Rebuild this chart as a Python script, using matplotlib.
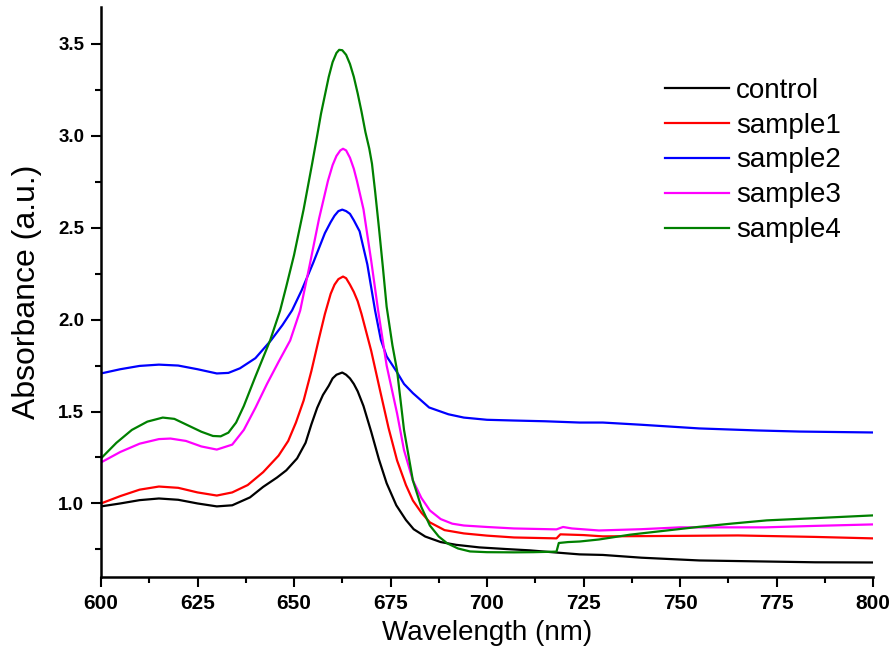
import matplotlib
matplotlib.use("Agg")
import matplotlib.pyplot as plt
from matplotlib import font_manager
from matplotlib.ticker import MultipleLocator

# absorbance spectra
control_wl = [600, 605, 610, 615, 620, 625, 630, 634, 638.6, 642, 645.6, 648, 650.8, 653, 654.5, 656, 657.5, 659,
              660, 661, 662.5, 663.5, 664.5, 665.5, 666.5, 668, 670, 672, 674, 676.5, 679, 681, 684, 688, 692,
              698, 705, 711, 718, 724, 730, 740, 755, 770, 785, 800]
control = [0.984, 1.0, 1.018, 1.027, 1.02, 1.0, 0.984, 0.99, 1.033, 1.09, 1.141, 1.18, 1.245, 1.33, 1.43, 1.52,
           1.59, 1.64, 1.68, 1.70, 1.712, 1.70, 1.68, 1.65, 1.61, 1.53, 1.39, 1.24, 1.11, 0.99, 0.91, 0.86, 0.82,
           0.79, 0.775, 0.761, 0.752, 0.745, 0.733, 0.723, 0.72, 0.705, 0.69, 0.685, 0.68, 0.679]

sample1_wl = [600, 605, 610, 615, 620, 625, 630, 634, 638, 642, 646, 648.5, 650.5, 652.5, 654.5, 656.5, 658,
              659.5, 660.5, 661.5, 662.7, 663.5, 664.5, 665.5, 666.5, 667.5, 670, 672.3, 674.5, 676.7, 679,
              680.8, 683, 685.2, 689, 694, 700, 707, 718, 719, 725, 730, 745, 765, 785, 800]
sample1 = [1.0, 1.04, 1.075, 1.092, 1.085, 1.06, 1.043, 1.06, 1.10, 1.17, 1.26, 1.34, 1.44, 1.56, 1.72, 1.90,
           2.03, 2.14, 2.19, 2.22, 2.234, 2.225, 2.19, 2.15, 2.1, 2.03, 1.83, 1.614, 1.41, 1.234, 1.10, 1.016,
           0.95, 0.897, 0.855, 0.837, 0.825, 0.815, 0.81, 0.832, 0.828, 0.821, 0.823, 0.826, 0.818, 0.81]

sample2_wl = [600, 605, 610, 615, 620, 625, 630, 633, 636, 640, 644, 647, 649.5, 652, 655, 658, 659.5, 660.5,
              661.5, 662.5, 663.5, 664.5, 665.5, 667, 669, 671, 672.5, 674, 676.5, 678.5, 680.8, 685, 690, 694,
              700, 707, 715, 724, 730, 740, 755, 770, 781, 800]
sample2 = [1.707, 1.73, 1.748, 1.755, 1.75, 1.73, 1.707, 1.71, 1.735, 1.79, 1.886, 1.97, 2.05, 2.16, 2.31, 2.47,
           2.53, 2.565, 2.59, 2.598, 2.59, 2.575, 2.54, 2.48, 2.3, 2.05, 1.89, 1.80, 1.72, 1.65, 1.60, 1.522,
           1.485, 1.467, 1.455, 1.451, 1.447, 1.44, 1.44, 1.428, 1.408, 1.397, 1.391, 1.386]

sample3_wl = [600, 605, 610, 615, 618, 622, 626, 630, 634, 637, 640, 643, 646, 649, 651.6, 654, 656.5, 658.8,
              660, 661, 662, 662.7, 663.5, 664.5, 665.5, 666.3, 668, 670, 671.8, 674, 676.7, 678.5, 680.8, 683,
              685.2, 688, 691, 694, 700, 707, 718, 719.7, 722, 729, 740, 750, 760, 772, 785, 800]
sample3 = [1.223, 1.28, 1.325, 1.35, 1.353, 1.34, 1.31, 1.293, 1.32, 1.40, 1.52, 1.65, 1.77, 1.886, 2.049, 2.29,
           2.55, 2.755, 2.84, 2.89, 2.92, 2.929, 2.92, 2.88, 2.82, 2.755, 2.6, 2.32, 2.049, 1.75, 1.49, 1.29,
           1.125, 1.03, 0.962, 0.915, 0.89, 0.88, 0.872, 0.864, 0.859, 0.872, 0.864, 0.853, 0.86, 0.87, 0.87,
           0.87, 0.878, 0.886]

sample4_wl = [600, 604, 608, 612, 616, 619, 622, 626, 629, 631, 633, 635, 637, 640, 643.8, 646.4, 648, 650,
              652.5, 654.7, 656, 657, 658, 659, 660, 661, 661.7, 662.5, 663.5, 664.5, 665.5, 666.5, 667.5, 668.5,
              669.5, 670.2, 671, 672, 673, 674, 675.5, 676.7, 678.5, 680.8, 683, 685.2, 687.5, 689.7, 692.5,
              695.6, 700, 707, 712, 718, 718.6, 721, 724, 729, 737, 746.6, 755, 763.7, 772.5, 785, 800]
sample4 = [1.245, 1.33, 1.40, 1.445, 1.467, 1.46, 1.43, 1.39, 1.367, 1.365, 1.385, 1.44, 1.53, 1.69, 1.886,
           2.049, 2.18, 2.35, 2.6, 2.848, 3.0, 3.12, 3.22, 3.32, 3.40, 3.45, 3.467, 3.465, 3.44, 3.39, 3.32,
           3.23, 3.13, 3.02, 2.93, 2.848, 2.70, 2.5, 2.29, 2.07, 1.86, 1.723, 1.40, 1.125, 0.98, 0.88, 0.82,
           0.783, 0.755, 0.739, 0.735, 0.734, 0.735, 0.738, 0.785, 0.79, 0.793, 0.804, 0.83, 0.853, 0.873,
           0.891, 0.908, 0.92, 0.935]

names = ["control", "sample1", "sample2", "sample3", "sample4"]
colors = ["black", "#ff0000", "#0000ff", "#ff00ff", "#008000"]


def pick(*fams):
    have = {f.name for f in font_manager.fontManager.ttflist}
    for f in fams:
        if f in have:
            return f
    return "DejaVu Sans"


sans = pick("Liberation Sans", "Arial")
narrow = pick("Liberation Sans Narrow", "Liberation Sans")

fig = plt.figure(figsize=(8.96, 6.61), dpi=100)
ax = fig.add_axes([101 / 896, 84 / 661, 772 / 896, 570 / 661])

series = [(control_wl, control), (sample1_wl, sample1), (sample2_wl, sample2),
          (sample3_wl, sample3), (sample4_wl, sample4)]
for (wl, ab), name, c in zip(series, names, colors):
    ax.plot(wl, ab, color=c, lw=1.6, label=name)

ax.set_xlim(600, 800)
ax.set_ylim(0.6, 3.7)
ax.xaxis.set_major_locator(MultipleLocator(25))
ax.xaxis.set_minor_locator(MultipleLocator(12.5))
ax.yaxis.set_major_locator(MultipleLocator(0.5))
ax.yaxis.set_minor_locator(MultipleLocator(0.25))

for s in ["top", "right"]:
    ax.spines[s].set_visible(False)
for s in ["left", "bottom"]:
    ax.spines[s].set_linewidth(1.8)

ax.tick_params(which="major", direction="out", length=7, width=1.5, pad=5)
ax.tick_params(which="minor", direction="out", length=4.5, width=1.5)
for lab in ax.get_xticklabels():
    lab.set_fontfamily(narrow)
    lab.set_fontweight("bold")
    lab.set_fontsize(15)
for lab in ax.get_yticklabels():
    lab.set_fontfamily(sans)
    lab.set_fontweight("bold")
    lab.set_fontsize(13.5)

ax.set_xlabel("Wavelength (nm)", fontfamily=sans, fontsize=20, labelpad=5)
ax.set_ylabel("Absorbance (a.u.)", fontfamily=sans, fontsize=23, labelpad=12)

ax.legend(loc="upper left", bbox_to_anchor=(0.7306, 0.876), frameon=False,
          prop={"family": sans, "size": 20}, handlelength=2.3, handletextpad=0.25,
          labelspacing=0.32, borderpad=0, borderaxespad=0)

fig.savefig("out.png", dpi=100)
